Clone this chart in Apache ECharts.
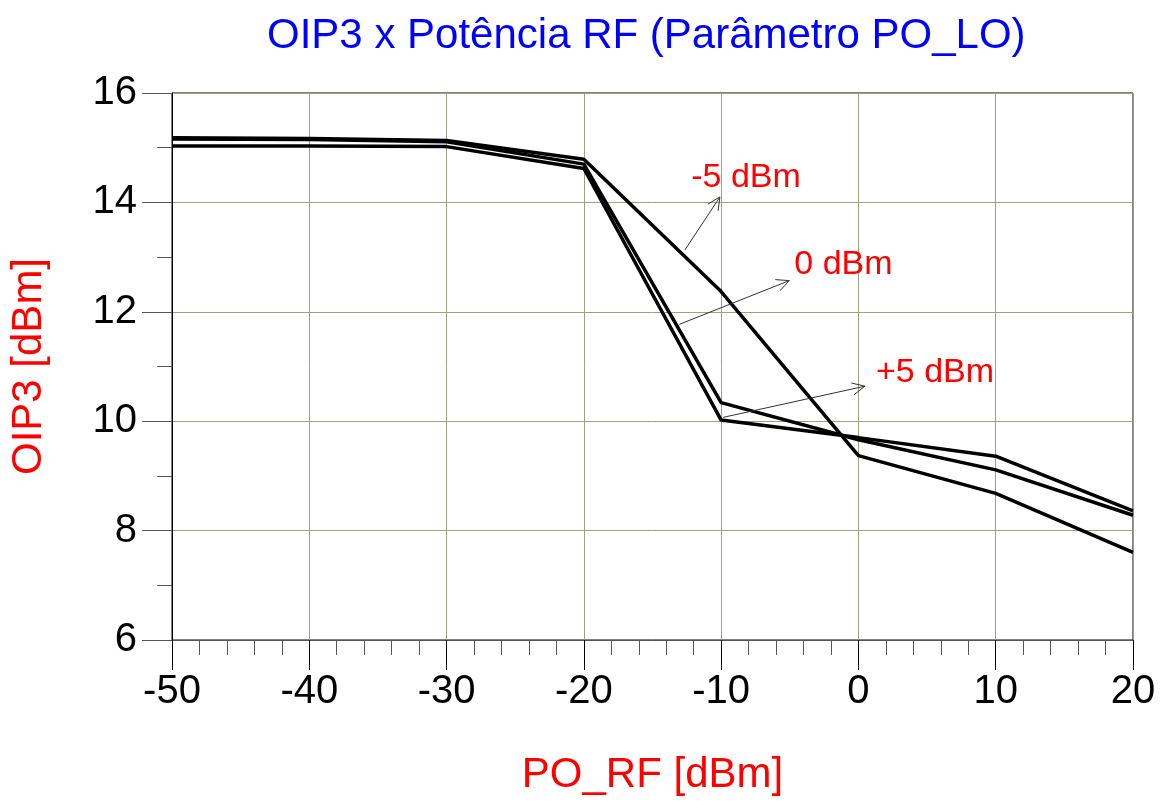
<!DOCTYPE html>
<html>
<head>
<meta charset="utf-8">
<title>OIP3 x Potência RF</title>
<script src="https://cdn.jsdelivr.net/npm/echarts/dist/echarts.min.js"></script>
<style>
    html, body { margin: 0; padding: 0; background: #fff; }
    #oip3_chart { width: 1160px; height: 804px; }
</style>
</head>
<body>
<div id="oip3_chart"></div>
<script>
/* 数据：PO_RF 扫描点 */
var poRf = [-50, -40, -30, -20, -10, 0, 10, 20];
/* OIP3 for each LO power */
var oip3LoM5 = [15.18, 15.17, 15.13, 14.79, 12.37, 9.37, 8.68, 7.60];
var oip3Lo0 = [15.16, 15.15, 15.11, 14.70, 10.34, 9.66, 9.11, 8.28];
var oip3LoP5 = [15.03, 15.03, 15.02, 14.62, 10.02, 9.70, 9.36, 8.36];

/* annotations: label, arrow start on the curve, arrow tip, label centre */
var annoText = ['-5 dBm', '0 dBm', '+5 dBm'];
var annoFrom = [[-12.64, 13.13], [-13.05, 11.77], [-9.85, 10.07]];
var annoTip = [[-10.09, 14.10], [-5.04, 12.57], [0.47, 10.64]];
var annoLabel = [[-8.19, 14.45], [-1.09, 12.87], [5.58, 10.88]];

var FONT = '"Liberation Sans", Arial, sans-serif';

function pairs(xs, ys) {
    return xs.map(function (x, i) { return [x, ys[i]]; });
}

function lineSeries(name, values) {
    return {
        name: name,
        type: 'line',
        data: pairs(poRf, values),
        symbol: 'none',
        lineStyle: { color: '#000', width: 3.5 },
        z: 3
    };
}

/* arrow + label drawn through the axes */
function renderAnno(params, api) {
    var i = params.dataIndex;
    var p0 = api.coord(annoFrom[i]);
    var p1 = api.coord(annoTip[i]);
    var pt = api.coord(annoLabel[i]);
    var ang = Math.atan2(p1[1] - p0[1], p1[0] - p0[0]);
    var len = 14, spread = 0.45;
    var h1 = [p1[0] - len * Math.cos(ang - spread), p1[1] - len * Math.sin(ang - spread)];
    var h2 = [p1[0] - len * Math.cos(ang + spread), p1[1] - len * Math.sin(ang + spread)];
    var stroke = { stroke: '#333', lineWidth: 1 };
    return {
        type: 'group',
        children: [
            { type: 'line', shape: { x1: p0[0], y1: p0[1], x2: p1[0], y2: p1[1] }, style: stroke },
            { type: 'line', shape: { x1: p1[0], y1: p1[1], x2: h1[0], y2: h1[1] }, style: stroke },
            { type: 'line', shape: { x1: p1[0], y1: p1[1], x2: h2[0], y2: h2[1] }, style: stroke },
            {
                type: 'text',
                style: {
                    text: annoText[i], x: pt[0], y: pt[1],
                    fill: '#ff0000', font: '34px ' + FONT,
                    align: 'center', verticalAlign: 'middle'
                }
            }
        ]
    };
}

var myChart = echarts.init(document.getElementById('oip3_chart'));
var option = {
    backgroundColor: '#fff',
    animation: false,
    title: {
        text: 'OIP3 x Potência RF (Parâmetro PO_LO)',
        left: 262,
        top: 10,
        textStyle: { color: '#0000ff', fontSize: 42, fontWeight: 'normal', fontFamily: FONT }
    },
    grid: {
        left: 172, right: 27, top: 93, bottom: 164,
        show: true, borderColor: '#000', borderWidth: 1
    },
    xAxis: {
        type: 'value',
        min: -50, max: 20, interval: 10,
        name: 'PO_RF [dBm]',
        nameLocation: 'middle',
        nameGap: 114,
        nameTextStyle: { color: '#ff0000', fontSize: 42, fontFamily: FONT },
        axisLine: { onZero: false, lineStyle: { color: '#555', width: 1 } },
        axisTick: { length: 30, lineStyle: { color: '#000' } },
        minorTick: { show: true, splitNumber: 5, length: 15, lineStyle: { color: '#555' } },
        axisLabel: { color: '#000', fontSize: 40, fontFamily: FONT, margin: 32 },
        splitLine: { show: true, lineStyle: { color: '#a09f85', width: 1 } }
    },
    yAxis: {
        type: 'value',
        min: 6, max: 16, interval: 2,
        name: 'OIP3 [dBm]',
        nameLocation: 'middle',
        nameGap: 122,
        nameTextStyle: { color: '#ff0000', fontSize: 42, fontFamily: FONT },
        axisLine: { onZero: false, lineStyle: { color: '#000', width: 1 } },
        axisTick: { length: 30, lineStyle: { color: '#555' } },
        minorTick: { show: true, splitNumber: 2, length: 15, lineStyle: { color: '#555' } },
        axisLabel: { color: '#000', fontSize: 40, fontFamily: FONT, margin: 35 },
        splitLine: { show: true, lineStyle: { color: '#a09f85', width: 1 } }
    },
    series: [
        lineSeries('-5 dBm', oip3LoM5),
        lineSeries('0 dBm', oip3Lo0),
        lineSeries('+5 dBm', oip3LoP5),
        {
            type: 'custom',
            coordinateSystem: 'cartesian2d',
            renderItem: renderAnno,
            data: annoFrom,
            clip: false,
            silent: true,
            z: 4
        }
    ]
};
myChart.setOption(option);
</script>
</body>
</html>
